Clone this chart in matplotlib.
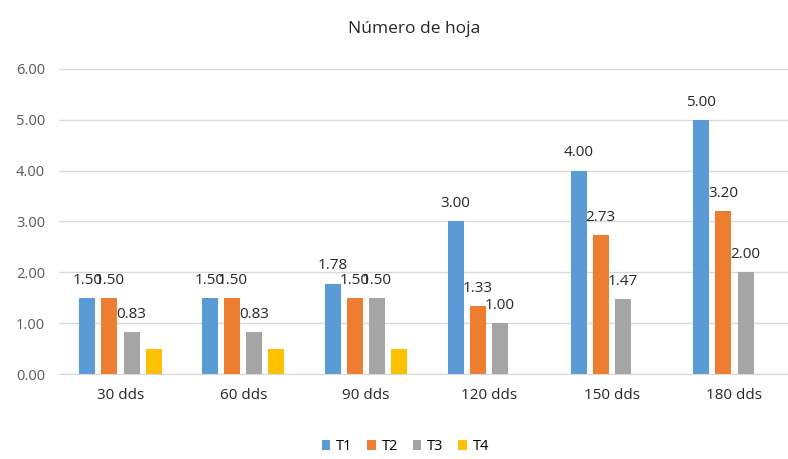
import matplotlib.pyplot as plt
import numpy as np

categorias = ['30 dds', '60 dds', '90 dds', '120 dds', '150 dds', '180 dds']
t1 = [1.50, 1.50, 1.78, 3.00, 4.00, 5.00]
t2 = [1.50, 1.50, 1.50, 1.33, 2.73, 3.20]
t3 = [0.83, 0.83, 1.50, 1.00, 1.47, 2.00]
t4 = [0.50, 0.50, 0.50, 0, 0, 0]

series = [('T1', t1, '#5B9BD5'), ('T2', t2, '#ED7D31'),
          ('T3', t3, '#A5A5A5'), ('T4', t4, '#FFC000')]

plt.rcParams['font.family'] = ['Open Sans', 'DejaVu Sans']

fig = plt.figure(figsize=(7.88, 4.59), dpi=100)
ax = fig.add_axes([0.075, 0.185, 0.935, 0.665])

x = np.arange(len(categorias))
ancho = 0.13
paso = 0.18
for i, (nombre, vals, col) in enumerate(series):
    pos = x + (i - 1.5) * paso
    bars = ax.bar(pos, vals, width=ancho, color=col, label=nombre)
    if nombre != 'T4':
        for b, v in zip(bars, vals):
            ax.text(b.get_x() + b.get_width() / 2, v + 0.2, '%.2f' % v,
                    ha='center', va='bottom', fontsize=11, color='#262626')

ax.set_ylim(0, 6)
ax.set_yticks(np.arange(0, 7, 1))
ax.set_yticklabels(['%.2f' % v for v in np.arange(0, 7, 1)], fontsize=10.5, color='#595959')
ax.set_xlim(-0.5, len(categorias) - 0.5)
ax.set_xticks(x)
ax.set_xticklabels(categorias, fontsize=11, color='#262626')
ax.tick_params(length=0, pad=10)
ax.grid(axis='y', color='#D9D9D9', linewidth=1)
ax.set_axisbelow(True)
for s in ['top', 'right', 'left']:
    ax.spines[s].set_visible(False)
ax.spines['bottom'].set_color('#D9D9D9')

fig.suptitle('Número de hoja', x=0.525, y=0.955, fontsize=12.5, color='#262626')
ax.legend(loc='upper center', bbox_to_anchor=(0.47, -0.17), ncol=4, frameon=False,
          fontsize=10.5, handlelength=0.6, handleheight=0.6, columnspacing=1.0,
          handletextpad=0.4)

fig.savefig('out.png', dpi=100)
